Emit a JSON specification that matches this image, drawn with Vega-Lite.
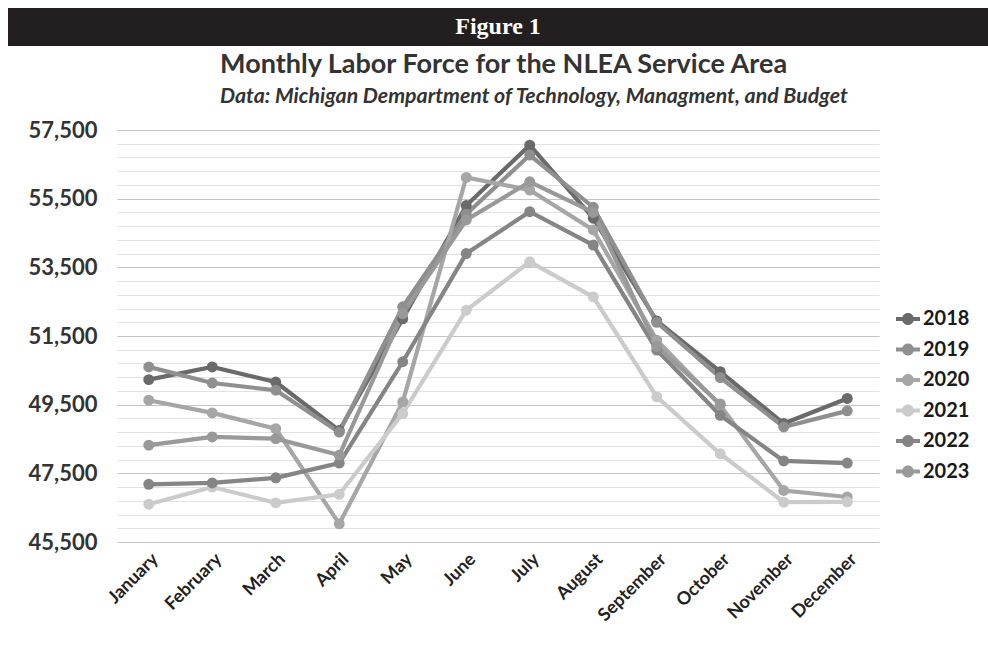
{
  "$schema": "https://vega.github.io/schema/vega-lite/v6.json",
  "background": "white",
  "padding": {"left": 8, "top": 8, "right": 0, "bottom": 0},
  "spacing": 84,
  "bounds": "flush",
  "center": true,
  "config": {"view": {"stroke": null}, "font": "Lato"},
  "vconcat": [
    {
      "width": 980,
      "height": 38,
      "view": {"fill": "#231f20", "stroke": null},
      "data": {"values": [{"t": "Figure 1"}]},
      "mark": {"type": "text", "font": "Liberation Serif", "fontSize": 24, "fontWeight": "bold", "color": "white", "baseline": "middle", "align": "center"},
      "encoding": {"text": {"field": "t", "type": "nominal"}}
    },
    {
      "width": 762,
      "height": 412,
      "title": {
        "text": "Monthly Labor Force for the NLEA Service Area",
        "subtitle": "Data: Michigan Dempartment of Technology, Managment, and Budget",
        "anchor": "start",
        "dx": 192,
        "font": "Lato", "fontSize": 27, "fontWeight": "bold", "color": "#333333",
        "subtitleFont": "Lato", "subtitleFontSize": 21.3, "subtitleFontWeight": "bold", "subtitleFontStyle": "italic", "subtitleColor": "#333333",
        "subtitlePadding": 7, "offset": 11
      },
      "data": {"values": [
        {"month": "January", "year": "2018", "value": 50230},
        {"month": "February", "year": "2018", "value": 50600},
        {"month": "March", "year": "2018", "value": 50160},
        {"month": "April", "year": "2018", "value": 48750},
        {"month": "May", "year": "2018", "value": 52000},
        {"month": "June", "year": "2018", "value": 55300},
        {"month": "July", "year": "2018", "value": 57060},
        {"month": "August", "year": "2018", "value": 54930},
        {"month": "September", "year": "2018", "value": 51940},
        {"month": "October", "year": "2018", "value": 50460},
        {"month": "November", "year": "2018", "value": 48950},
        {"month": "December", "year": "2018", "value": 49680},
        {"month": "January", "year": "2019", "value": 50600},
        {"month": "February", "year": "2019", "value": 50130},
        {"month": "March", "year": "2019", "value": 49920},
        {"month": "April", "year": "2019", "value": 48700},
        {"month": "May", "year": "2019", "value": 52350},
        {"month": "June", "year": "2019", "value": 55050},
        {"month": "July", "year": "2019", "value": 56770},
        {"month": "August", "year": "2019", "value": 55250},
        {"month": "September", "year": "2019", "value": 51900},
        {"month": "October", "year": "2019", "value": 50290},
        {"month": "November", "year": "2019", "value": 48850},
        {"month": "December", "year": "2019", "value": 49320},
        {"month": "January", "year": "2020", "value": 49630},
        {"month": "February", "year": "2020", "value": 49260},
        {"month": "March", "year": "2020", "value": 48800},
        {"month": "April", "year": "2020", "value": 46030},
        {"month": "May", "year": "2020", "value": 49580},
        {"month": "June", "year": "2020", "value": 56120},
        {"month": "July", "year": "2020", "value": 55750},
        {"month": "August", "year": "2020", "value": 54590},
        {"month": "September", "year": "2020", "value": 51380},
        {"month": "October", "year": "2020", "value": 49480},
        {"month": "November", "year": "2020", "value": 47000},
        {"month": "December", "year": "2020", "value": 46810},
        {"month": "January", "year": "2021", "value": 46600},
        {"month": "February", "year": "2021", "value": 47100},
        {"month": "March", "year": "2021", "value": 46640},
        {"month": "April", "year": "2021", "value": 46890},
        {"month": "May", "year": "2021", "value": 49240},
        {"month": "June", "year": "2021", "value": 52250},
        {"month": "July", "year": "2021", "value": 53660},
        {"month": "August", "year": "2021", "value": 52640},
        {"month": "September", "year": "2021", "value": 49730},
        {"month": "October", "year": "2021", "value": 48070},
        {"month": "November", "year": "2021", "value": 46660},
        {"month": "December", "year": "2021", "value": 46670},
        {"month": "January", "year": "2022", "value": 47180},
        {"month": "February", "year": "2022", "value": 47220},
        {"month": "March", "year": "2022", "value": 47370},
        {"month": "April", "year": "2022", "value": 47800},
        {"month": "May", "year": "2022", "value": 50750},
        {"month": "June", "year": "2022", "value": 53900},
        {"month": "July", "year": "2022", "value": 55120},
        {"month": "August", "year": "2022", "value": 54150},
        {"month": "September", "year": "2022", "value": 51090},
        {"month": "October", "year": "2022", "value": 49190},
        {"month": "November", "year": "2022", "value": 47860},
        {"month": "December", "year": "2022", "value": 47800},
        {"month": "January", "year": "2023", "value": 48320},
        {"month": "February", "year": "2023", "value": 48560},
        {"month": "March", "year": "2023", "value": 48510},
        {"month": "April", "year": "2023", "value": 48030},
        {"month": "May", "year": "2023", "value": 52150},
        {"month": "June", "year": "2023", "value": 54880},
        {"month": "July", "year": "2023", "value": 55990},
        {"month": "August", "year": "2023", "value": 55100},
        {"month": "September", "year": "2023", "value": 51200},
        {"month": "October", "year": "2023", "value": 49520}
      ]},
      "encoding": {
        "x": {
          "field": "month", "type": "nominal",
          "scale": {"type": "point", "padding": 0.5, "domain": ["January","February","March","April","May","June","July","August","September","October","November","December"]},
          "axis": {"title": null, "labelAngle": -45, "labelAlign": "right", "labelBaseline": "top", "labelFont": "Lato", "labelFontSize": 18, "labelFontWeight": "bold", "labelColor": "#222222", "domain": false, "ticks": false, "grid": false, "labelPadding": 8}
        },
        "y": {
          "field": "value", "type": "quantitative",
          "scale": {"domain": [45500, 57500], "nice": false, "zero": false},
          "axis": {
            "title": null,
            "values": [45500,45900,46300,46700,47100,47500,47900,48300,48700,49100,49500,49900,50300,50700,51100,51500,51900,52300,52700,53100,53500,53900,54300,54700,55100,55500,55900,56300,56700,57100,57500],
            "labelExpr": "(datum.value - 45500) % 2000 === 0 ? format(datum.value, ',') : ''",
            "labelFont": "Lato", "labelFontSize": 22, "labelFontWeight": "bold", "labelColor": "#333333",
            "labelPadding": 20, "domain": false, "ticks": false,
            "gridColor": {"condition": {"test": "(datum.value - 45500) % 2000 === 0", "value": "#c4c4c4"}, "value": "#e2e2e2"},
            "gridWidth": 1.2
          }
        },
        "color": {
          "field": "year", "type": "nominal",
          "scale": {"domain": ["2018","2019","2020","2021","2022","2023"], "range": ["#6a6a6a","#8f8f8f","#a6a6a6","#cbcbcb","#858585","#999999"]},
          "legend": {
            "title": null, "orient": "none", "legendX": 888, "legendY": 299,
            "labelFont": "Lato", "labelFontSize": 20, "labelFontWeight": "bold", "labelColor": "#1a1a1a",
            "symbolType": "M-1,-0.16L1,-0.16L1,0.16L-1,0.16Z M0.5,0A0.5,0.5 0 1,1 -0.5,0A0.5,0.5 0 1,1 0.5,0Z",
            "symbolSize": 576, "symbolStrokeWidth": 0, "labelOffset": 3, "rowPadding": 8.5,
            "encode": {"symbols": {"update": {"fill": {"scale": "color", "field": "value"}, "stroke": {"value": "transparent"}}}}
          }
        }
      },
      "layer": [
        {"mark": {"type": "line", "strokeWidth": 4.2}},
        {"mark": {"type": "point", "filled": true, "size": 120, "opacity": 1}}
      ]
    }
  ]
}
